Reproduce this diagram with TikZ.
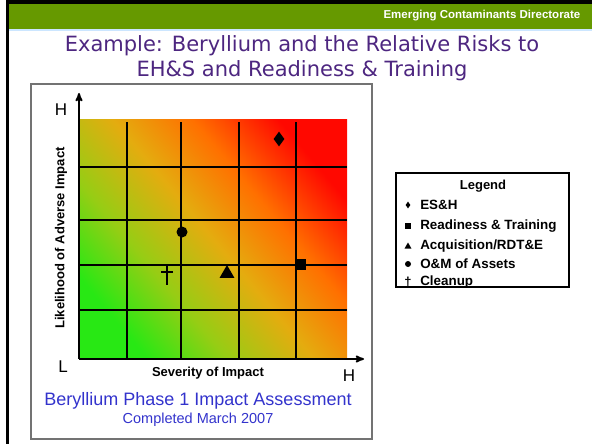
\documentclass[tikz,border=0pt]{standalone}
\usepackage{fontspec}
\setmainfont{Liberation Sans}
\newfontfamily\ttlfont{DejaVu Sans}
\usepackage{xcolor}
\usepackage{tikz}
\usetikzlibrary{arrows}
\usetikzlibrary{calc}
\usetikzlibrary{positioning}
\usetikzlibrary{shapes.geometric}

\definecolor{hdrgreen}{RGB}{102,153,0}
\definecolor{hdrline}{RGB}{204,230,255}
\definecolor{ttlpurple}{RGB}{77,38,128}
\definecolor{capblue}{RGB}{51,51,204}
\definecolor{riskLo}{RGB}{40,232,20}
\definecolor{riskLG}{RGB}{150,205,20}
\definecolor{riskMid}{RGB}{228,172,15}
\definecolor{riskOr}{RGB}{255,112,0}
\definecolor{riskHi}{RGB}{255,8,0}
\pgfdeclarehorizontalshading{riskgrad}{100bp}{color(0bp)=(riskLo); color(25bp)=(riskLo);
	color(37bp)=(riskLG); color(50bp)=(riskMid); color(62bp)=(riskOr); color(75bp)=(riskHi); color(100bp)=(riskHi)}

\begin{document}
\begin{tikzpicture}[x=1pt,y=-1pt,>=stealth',semithick]
	\tikzstyle{mk}=[fill=black, inner sep=0pt]
	\tikzstyle{lgd}=[anchor=west, inner sep=0pt, font=\fontsize{13.4}{13.4}\selectfont\bfseries]
	\tikzstyle{axlbl}=[inner sep=0pt, font=\fontsize{13}{13}\selectfont\bfseries]
	\tikzstyle{hilo}=[inner sep=0pt, font=\fontsize{17}{17}\selectfont]
	\useasboundingbox (0,0) rectangle (592,444);
	% slide frame and header
	\fill[hdrgreen] (9,4) rectangle (592,29);
	\fill[hdrline] (9,29) rectangle (592,31);
	\fill[black] (6,0) rectangle (592,4);
	\fill[black] (6,0) rectangle (9,444);
	\node[anchor=east, text=white, font=\fontsize{11.5}{11.5}\selectfont\bfseries] (hdr) at (584,16) {Emerging Contaminants Directorate};
	\node[text=ttlpurple, align=center, font=\ttlfont\fontsize{21}{25}\selectfont] (title) at (302,58)
		{Example: Beryllium and the Relative Risks to\\EH\&S and Readiness \& Training};
	% chart panel
	\draw[line width=1.3pt, black!55] (31,84) rectangle (372,439);
	\shade[shading=riskgrad, shading angle=40] (79,119) rectangle (347,359);
	\foreach \gx in {127,181,239,296}
		\draw[line width=1.1pt] (\gx,122) -- (\gx,359);
	\foreach \gy in {167,220,265,310}
		\draw[line width=1.1pt] (79,\gy) -- (347,\gy);
	\coordinate (orig) at (79,359);
	\coordinate (ytip) at (79,93);
	\coordinate (xtip) at (364,359);
	\path[line width=1.8pt]
		(orig) edge[->] (ytip)
		(orig) edge[->] (xtip);
	\node[hilo] (yhi) at (61,110) {H};
	\node[hilo] (lo) at (63,367) {L};
	\node[hilo] (xhi) at (349,376) {H};
	\node[axlbl] (sev) at (208,373) {Severity of Impact};
	\node[axlbl, rotate=90] (lik) at (61,238) {Likelihood of Adverse Impact};
	% risk points
	\node[mk, diamond, minimum width=11pt, minimum height=15pt] (esh) at (279,139) {};
	\node[mk, rectangle, minimum size=11pt] (rdt) at (300,264) {};
	\node[mk, regular polygon, regular polygon sides=3, minimum size=17pt] (acq) at (227,273.5) {};
	\node[mk, circle, minimum size=11pt] (om) at (182,232) {};
	\coordinate (cln) at (167,275);
	\draw[line width=2.6pt] ($(cln)+(0,-9)$) -- ($(cln)+(0,10)$);
	\draw[line width=2.4pt] ($(cln)+(-6,-3)$) -- ($(cln)+(6,-3)$);
	\node[text=capblue, font=\fontsize{18}{18}\selectfont] (cap1) at (198,401) {Beryllium Phase 1 Impact Assessment};
	\node[text=capblue, font=\fontsize{14.5}{14.5}\selectfont] (cap2) at (198,420) {Completed March 2007};
	% legend
	\node[draw, line width=1.5pt, minimum width=173pt, minimum height=114pt, inner sep=0pt] (lgdbox) at (482.5,230) {};
	\node[inner sep=0pt, font=\fontsize{13}{13}\selectfont\bfseries] (lgdttl) at (483,186) {Legend};
	\node[mk, diamond, minimum width=5pt, minimum height=7pt] (l1) at (408,205) {};
	\node[mk, rectangle, minimum size=5.5pt] (l2) at (408,226) {};
	\node[mk, regular polygon, regular polygon sides=3, minimum size=8pt] (l3) at (408,246.5) {};
	\node[mk, circle, minimum size=6pt] (l4) at (408,264) {};
	\node[inner sep=0pt, font=\fontsize{13}{13}\selectfont\bfseries] (l5) at (408,282) {\textdagger};
	\node[lgd] (t1) at (420,205) {ES\&H};
	\node[lgd] (t2) at (420,226) {Readiness \& Training};
	\node[lgd] (t3) at (420,246) {Acquisition/RDT\&E};
	\node[lgd] (t4) at (420,264) {O\&M of Assets};
	\node[lgd] (t5) at (420,282) {Cleanup};
\end{tikzpicture}
\end{document}
